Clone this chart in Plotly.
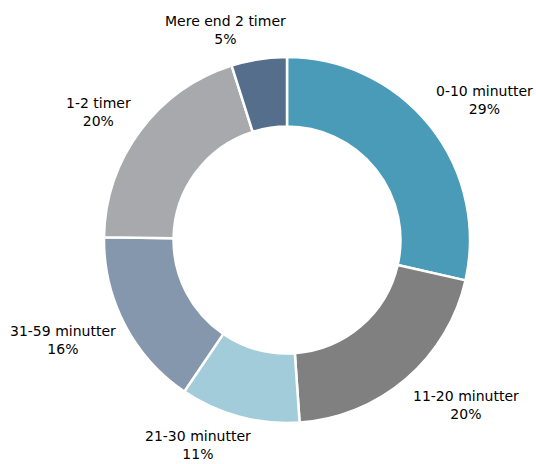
import plotly.graph_objects as go

categories = ["0-10 minutter", "11-20 minutter", "21-30 minutter", "31-59 minutter", "1-2 timer", "Mere end 2 timer"]
values = [28.6, 20.4, 10.6, 15.8, 19.9, 4.9]
colors = ["#4A9BB8", "#808080", "#A3CCDA", "#8497AC", "#A8A9AD", "#546E8C"]

W, H = 536, 464
cx, cy, r = 287, 240, 183

# label anchor positions (pixels, layout only)
label_pos_px = [(484, 100), (466, 405), (198, 445), (63, 340), (98, 112), (225, 30)]

total = sum(values)
fig = go.Figure(go.Pie(
    labels=categories,
    values=values,
    hole=0.62,
    sort=False,
    direction="clockwise",
    rotation=0,
    marker=dict(colors=colors, line=dict(color="white", width=2.5)),
    textinfo="none",
    hoverinfo="label+percent",
    showlegend=False,
    domain=dict(x=[(cx - r) / W, (cx + r) / W], y=[1 - (cy + r) / H, 1 - (cy - r) / H]),
))

annotations = []
for cat, v, (px, py) in zip(categories, values, label_pos_px):
    annotations.append(dict(
        x=px / W, y=1 - py / H, xref="paper", yref="paper",
        text=f"{cat}<br>{round(v / total * 100):d}%",
        showarrow=False, xanchor="center", yanchor="middle", align="center",
        font=dict(family="DejaVu Sans", size=14, color="#000000"),
    ))

fig.update_layout(
    width=W, height=H,
    margin=dict(l=0, r=0, t=0, b=0),
    paper_bgcolor="white",
    plot_bgcolor="white",
    annotations=annotations,
)
fig.write_html(
    "out.html",
    config={"displayModeBar": False},
    post_script="document.body.style.margin='0';document.body.style.overflow='hidden';",
)
